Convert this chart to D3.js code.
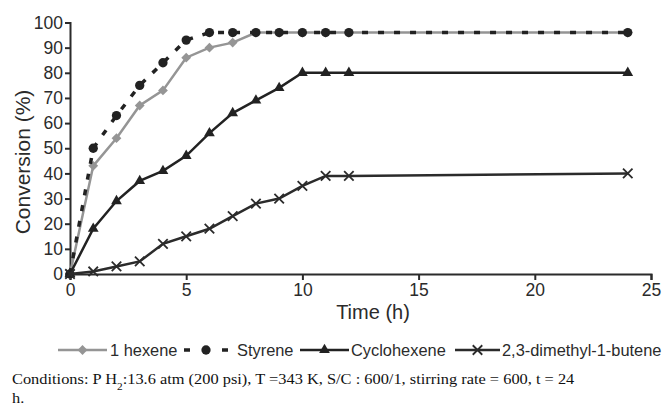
<!DOCTYPE html>
<html>
<head>
<meta charset="UTF-8">
<style>
body {
	margin: 0 ;
	background-color: #ffffff ;
}
svg text {
	font-family: "Liberation Sans", Arial, Helvetica, sans-serif ;
	fill: #2b2b2b ;
}
.axis path, .axis line {
	stroke: #2b2b2b ;
	stroke-width: 2 ;
}
.note {
	font-family: "Liberation Serif", "Times New Roman", serif !important ;
}
</style>
<title>Conversion vs time</title>
<script src="https://cdn.jsdelivr.net/npm/d3@7"></script>
</head>
<body>
<div id="chart"></div>

<script type="text/javascript" charset="utf-8">

	// data
	const times      = [ 0, 1, 2, 3, 4, 5, 6, 7, 8, 9, 10, 11, 12, 24 ] ;
	const hexene     = [ 0, 43, 54, 67, 73, 86, 90, 92, 96, 96, 96, 96, 96, 96 ] ;
	const styrene    = [ 0, 50, 63, 75, 84, 93, 96, 96, 96, 96, 96, 96, 96, 96 ] ;
	const cyclohex   = [ 0, 18, 29, 37, 41, 47, 56, 64, 69, 74, 80, 80, 80, 80 ] ;
	const dimethyl   = [ 0, 1, 3, 5, 12, 15, 18, 23, 28, 30, 35, 39, 39, 40 ] ;
	const seriesNames = [ "1 hexene", "Styrene", "Cyclohexene", "2,3-dimethyl-1-butene" ] ;
	const xTicks = [ 0, 5, 10, 15, 20, 25 ] ;
	const yTicks = [ 0, 10, 20, 30, 40, 50, 60, 70, 80, 90, 100 ] ;

	const width = 669 ;
	const height = 414 ;

	const svg = d3.select( "#chart" ).append( "svg" )
		.attr( "width", width )
		.attr( "height", height ) ;

	const x = d3.scaleLinear().domain( [ 0, 25 ] ).range( [ 70, 651 ] ) ;
	const y = d3.scaleLinear().domain( [ 0, 100 ] ).range( [ 274, 22.5 ] ) ;

	// marker shapes
	const crossType = {
		draw: function( ctx, size ) {
			const r = Math.sqrt( size ) / 2 ;
			ctx.moveTo( -r, -r ) ; ctx.lineTo( r, r ) ;
			ctx.moveTo( -r, r ) ; ctx.lineTo( r, -r ) ;
		}
	} ;

	const series = [
		{ name: seriesNames[0], values: hexene,   color: "#959595", width: 2.5, dash: null,
		  symbol: d3.symbol( d3.symbolSquare, 48 ), rotate: 45, fill: "#959595", stroke: "none" },
		{ name: seriesNames[1], values: styrene,  color: "#222222", width: 3.5, dash: "6,10",
		  symbol: d3.symbol( d3.symbolCircle, 68 ), rotate: 0, fill: "#222222", stroke: "none" },
		{ name: seriesNames[2], values: cyclohex, color: "#222222", width: 2.5, dash: null,
		  symbol: d3.symbol( d3.symbolTriangle, 50 ), rotate: 0, fill: "#222222", stroke: "none" },
		{ name: seriesNames[3], values: dimethyl, color: "#2b2b2b", width: 2.5, dash: null,
		  symbol: d3.symbol( crossType, 90 ), rotate: 0, fill: "none", stroke: "#2b2b2b" }
	] ;

	// axes
	svg.append( "g" )
		.attr( "class", "axis" )
		.attr( "transform", "translate(0," + y( 0 ) + ")" )
		.call( d3.axisBottom( x ).tickValues( xTicks ).tickSize( 6 ).tickSizeOuter( 6 ).tickPadding( 4 ) )
		.selectAll( "text" )
			.attr( "font-size", "17.5px" )
			.attr( "fill", "#2b2b2b" ) ;

	svg.append( "g" )
		.attr( "class", "axis" )
		.attr( "transform", "translate(" + x( 0 ) + ",0)" )
		.call( d3.axisLeft( y ).tickValues( yTicks ).tickSize( 5 ).tickSizeOuter( 5 ).tickPadding( 2 ) )
		.selectAll( "text" )
			.attr( "font-size", "17.5px" )
			.attr( "fill", "#2b2b2b" ) ;

	svg.selectAll( ".axis text" ).style( "font-family", "'Liberation Sans', Arial, sans-serif" ) ;

	// axis titles
	svg.append( "text" )
		.attr( "x", 373 )
		.attr( "y", 319 )
		.attr( "text-anchor", "middle" )
		.attr( "font-size", "20px" )
		.text( "Time (h)" ) ;

	svg.append( "text" )
		.attr( "transform", "translate(30,162) rotate(-90)" )
		.attr( "text-anchor", "middle" )
		.attr( "font-size", "21px" )
		.text( "Conversion (%)" ) ;

	// lines + markers
	const line = d3.line()
		.x( function(d, i) { return x( times[i] ) } )
		.y( function(d) { return y( d ) } ) ;

	series.forEach( function(s) {
		svg.append( "path" )
			.datum( s.values )
			.attr( "fill", "none" )
			.attr( "stroke", s.color )
			.attr( "stroke-width", s.width )
			.attr( "stroke-dasharray", s.dash )
			.attr( "d", line ) ;

		svg.append( "g" )
			.selectAll( "path" )
			.data( s.values )
			.enter()
				.append( "path" )
					.attr( "d", s.symbol )
					.attr( "transform", function(d, i) {
						return "translate(" + x( times[i] ) + "," + y( d ) + ") rotate(" + s.rotate + ")" ;
					})
					.attr( "fill", s.fill )
					.attr( "stroke", s.stroke )
					.attr( "stroke-width", 1.8 ) ;
	}) ;

	// legend
	const legendY = 350 ;
	const legendX = [ 58, 184, 300, 455 ] ;
	const legendLen = [ 49, 44, 49, 45 ] ;
	const legendText = [ 110, 237, 351, 502 ] ;

	const legend = svg.append( "g" ).selectAll( "g" )
		.data( series )
		.enter()
			.append( "g" ) ;

	legend.append( "line" )
		.attr( "x1", function(d, i) { return legendX[i] } )
		.attr( "x2", function(d, i) { return legendX[i] + legendLen[i] } )
		.attr( "y1", legendY )
		.attr( "y2", legendY )
		.attr( "stroke", function(d) { return d.color } )
		.attr( "stroke-width", function(d) { return d.width } )
		.attr( "stroke-dasharray", function(d) { return d.dash ? "6,32" : null } ) ;

	legend.append( "path" )
		.attr( "d", function(d) { return d.symbol() } )
		.attr( "transform", function(d, i) {
			return "translate(" + ( legendX[i] + legendLen[i] / 2 ) + "," + legendY + ") rotate(" + d.rotate + ")" ;
		})
		.attr( "fill", function(d) { return d.fill } )
		.attr( "stroke", function(d) { return d.stroke } )
		.attr( "stroke-width", 1.8 ) ;

	legend.append( "text" )
		.attr( "x", function(d, i) { return legendText[i] } )
		.attr( "y", legendY + 6 )
		.attr( "font-size", "16.4px" )
		.text( function(d) { return d.name } ) ;

	// conditions note (picture is a bit stretched sideways)
	const noteG = svg.append( "g" )
		.attr( "transform", "translate(12,0) scale(1.13,1)" ) ;

	const note = noteG.append( "text" )
		.attr( "class", "note" )
		.attr( "x", 0 )
		.attr( "y", 384 )
		.attr( "font-size", "14.5px" )
		.style( "fill", "#111" ) ;
	note.append( "tspan" ).text( "Conditions: P H" ) ;
	note.append( "tspan" ).attr( "baseline-shift", "sub" ).attr( "font-size", "10px" ).text( "2" ) ;
	note.append( "tspan" ).text( ":13.6 atm (200 psi), T =343 K, S/C : 600/1, stirring rate = 600, t = 24" ) ;

	noteG.append( "text" )
		.attr( "class", "note" )
		.attr( "x", 0 )
		.attr( "y", 403 )
		.attr( "font-size", "14.5px" )
		.style( "fill", "#111" )
		.text( "h." ) ;

</script>
</body>
</html>
